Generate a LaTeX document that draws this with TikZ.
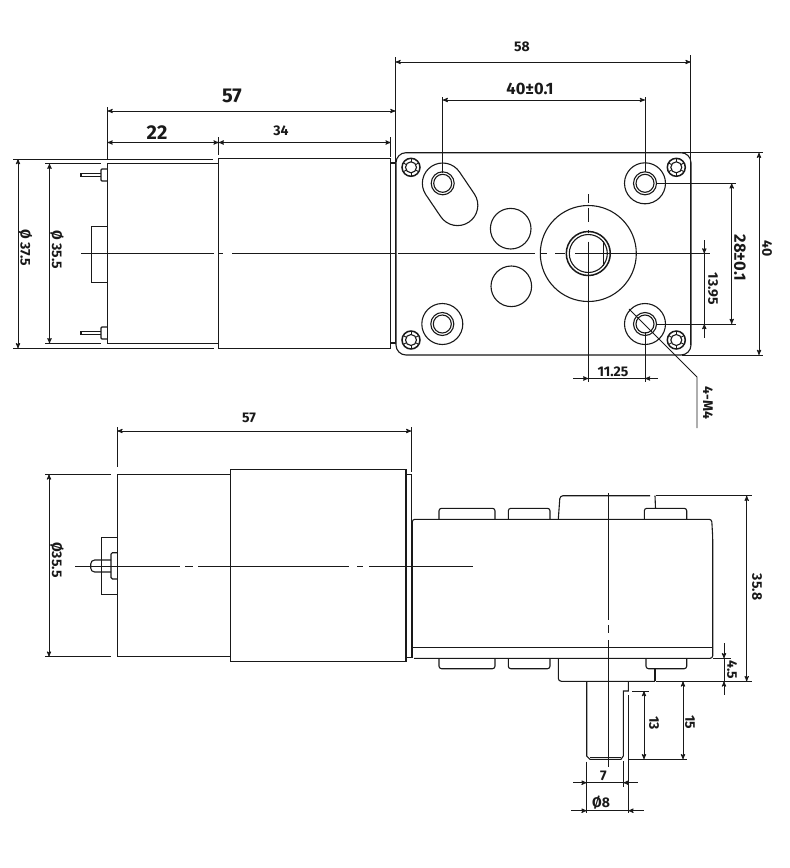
\documentclass[tikz,border=0pt]{standalone}
\usepackage{fontspec}
\setmainfont{Fira Sans}
\usetikzlibrary{arrows,positioning,calc}

\begin{document}
\begin{tikzpicture}[x=1pt,y=-1pt,>=stealth',line cap=butt]

  \tikzstyle{part}=[line width=1.1pt,black!90]
  \tikzstyle{heavy part}=[part,line width=1.5pt]
  \tikzstyle{ext line}=[line width=0.9pt,black!90]
  \tikzstyle{dim line}=[line width=0.9pt,black!90,<->]
  \tikzstyle{dim text}=[inner sep=0pt,font=\bfseries\fontsize{14}{14}\selectfont,black!90]
  \tikzstyle{big text}=[dim text,font=\bfseries\fontsize{20}{20}\selectfont]
  \tikzstyle{wide text}=[dim text,font=\bfseries\fontsize{16.5}{16.5}\selectfont]
  \tikzstyle{side text}=[dim text,rotate=-90]

  \useasboundingbox (0,0) rectangle (790,868);

  \begin{scope}
    % Top view, motor
    \draw [part] (107.5,163.7) rectangle (218.7,343.3);
    \draw [part] (218.7,158.3) rectangle (390.5,348.3);
    \draw [part] (390.5,163) -- (395.5,163);
    \draw [part] (390.5,343) -- (395.5,343);
    \draw [ext line] (91.5,226.5) rectangle (107.5,282.5);
    \foreach \pinY in {175,333} {
      \draw [part,rounded corners=1pt] (107.5,\pinY-6) -- (101,\pinY-6) -- (101,\pinY+6) -- (107.5,\pinY+6);
      \draw [part] (101,\pinY-1.7) -- (81,\pinY-1.7) -- (81,\pinY+1.7) -- (101,\pinY+1.7);
    }
    % centre line with its breaks
    \draw [ext line] (81,253.7) -- (214,253.7) (218,253.7) -- (223,253.7) (232,253.7) -- (395.5,253.7);

    % Top view, gearbox plate
    \draw [part,rounded corners=10pt] (396,152.7) rectangle (691,355);
    \coordinate (hole ul) at (442.7,183.3);
    \coordinate (hole ur) at (645,183.3);
    \coordinate (hole ll) at (442.3,324);
    \coordinate (hole lr) at (645,324);
    \coordinate (hub)     at (588.3,253.5);

    \draw [part] (425.8,194.6) arc [start angle=146.2,end angle=326.2,radius=20.3]
      -- (474.4,194) arc [start angle=326.2,end angle=506.2,radius=20.3] -- cycle;
    \foreach \hole in {hole ul,hole ur,hole ll,hole lr} {
      \draw [part] (\hole) circle (11.5);
      \draw [part] (\hole) circle (9);
    }
    \foreach \hole in {hole ur,hole ll,hole lr}
      \draw [part] (\hole) circle (20.5);

    \foreach \screwX/\screwY in {411/167.3,676.3/167.3,411/340,676.3/340} {
      \draw [heavy part] (\screwX,\screwY) circle (9);
      \draw [part] (\screwX,\screwY) circle (5.5);
      \foreach \a in {30,90,...,330}
        \draw [ext line] ($(\screwX,\screwY)+(\a:5.5)$) -- ($(\screwX,\screwY)+(\a:8.5)$);
    }
    \draw [part] (510.7,228.7) circle (20.3);
    \draw [part] (511.3,286.3) circle (20.3);
    \draw [part] (hub) circle (48);
    \draw [heavy part] (hub) circle (22);
    \draw [part] (hub) circle (19);
    \draw [ext line] (603.5,241) -- (603.5,266);

    % centre lines of the plate
    \draw [ext line] (398,253.5) -- (535,253.5) (540,253.5) -- (547,253.5) (555,253.5) -- (565,253.5)
      (575,253.5) -- (710,253.5);
    \draw [ext line] (588.3,194) -- (588.3,203) (588.3,208) -- (588.3,222) (588.3,230) -- (588.3,233)
      (588.3,241.7) -- (588.3,382);

    % Top view, dimensions
    \draw [ext line] (107.5,107) -- (107.5,159);
    \draw [ext line] (395.5,57) -- (395.5,343);
    \draw [ext line] (690.7,55) -- (690.7,345);
    \draw [ext line] (218.7,137) -- (218.7,155);
    \draw [ext line] (390.7,137) -- (390.7,157);
    \draw [ext line] (13,159) -- (213,159);
    \draw [ext line] (13,348.3) -- (214,348.3);
    \draw [ext line] (45,163.7) -- (101,163.7);
    \draw [ext line] (45,343.3) -- (101,343.3);
    \draw [ext line] (442.7,97) -- (442.7,173);
    \draw [ext line] (645,97) -- (645,172);
    \draw [ext line] (645,332) -- (645,382);
    \draw [ext line] (682,152.7) -- (763,152.7);
    \draw [ext line] (682,355) -- (763,355);
    \draw [ext line] (656,183.3) -- (736,183.3);
    \draw [ext line] (656,324) -- (736,324);

    \draw [dim line] (395.5,62) -- (690.7,62);
    \draw [dim line] (442.7,100) -- (645,100);
    \draw [dim line] (107.5,111) -- (395.5,111);
    \draw [dim line] (107.5,142.5) -- (218.7,142.5);
    \draw [dim line] (218.7,142.5) -- (390.7,142.5);
    \draw [dim line] (18,159) -- (18,348.3);
    \draw [dim line] (49.5,163.7) -- (49.5,343.3);
    \draw [dim line] (759,152.7) -- (759,355);
    \draw [dim line] (731.7,183.3) -- (731.7,324);
    \draw [ext line,<-] (704.3,253.5) -- (704.3,240);
    \draw [ext line] (704.3,253.5) -- (704.3,324);
    \draw [ext line,<-] (704.3,324) -- (704.3,338);
    \draw [ext line,<-] (588.3,378.5) -- (573,378.5);
    \draw [ext line] (588.3,378.5) -- (645,378.5);
    \draw [ext line,<-] (645,378.5) -- (658,378.5);
    % leader
    \draw [ext line] (629,309) -- (697,377) -- (697,428);

    \node [dim text]  (top58)  at (522,47)    {58};
    \node [wide text] (top40)  at (530,89)    {40±0.1};
    \node [big text]  (top57)  at (232,96)    {57};
    \node [big text]  (top22)  at (157,133)   {22};
    \node [dim text]  (top34)  at (281,131)   {34};
    \node [dim text]  (top11)  at (613,371.5) {11.25};
    \node [side text] (dia37)  at (25.5,248)  {Ø 37.5};
    \node [side text] (dia35)  at (57,250)    {Ø 35.5};
    \node [side text] (side40) at (767,249)   {40};
    \node [wide text,rotate=-90] (side28) at (740,258) {28±0.1};
    \node [side text] (side13) at (713,289)   {13.95};
    \node [side text] (sideM4) at (708,403)   {4-M4};
  \end{scope}

  \begin{scope}
    % Side view, motor
    \draw [part] (117.3,474.3) rectangle (230.7,656.7);
    \draw [part] (230.7,469.3) rectangle (406,661.7);
    \draw [part] (406,474.3) -- (411.3,474.3) -- (411.3,657.3) -- (406,657.3);
    \draw [ext line] (117.3,537.5) -- (101.5,537.5) -- (101.5,594.5) -- (117.3,594.5);
    \draw [part,rounded corners=1.5pt] (117.3,552.7) -- (111,552.7) -- (111,579) -- (117.3,579);
    \draw [part,rounded corners=4pt] (111,560) -- (90.7,560) -- (90.7,572) -- (111,572);

    % Side view, gearbox
    \draw [part,rounded corners=2.5pt] (412.3,657.3) -- (412.3,519.3) -- (711.7,519.3)
      -- (712.7,537) -- (712.7,658.3) -- (414,658.3);
    \draw [ext line] (412.3,647.5) -- (712.7,647.5);
    \draw [heavy part] (412.3,647) -- (412.3,658);
    \foreach \bumpL/\bumpR in {439/495,508.3/550,644.3/686.7} {
      \draw [part,rounded corners=2.5pt] (\bumpL,519.3) -- (\bumpL,508.3) -- (\bumpR,508.3) -- (\bumpR,519.3);
    }
    \foreach \bumpL/\bumpR in {439/495,508.3/550,646/686.7} {
      \draw [part,rounded corners=2.5pt] (\bumpL,658.3) -- (\bumpL,668.7) -- (\bumpR,668.7) -- (\bumpR,658.3);
    }
    \draw [part,rounded corners=3pt] (558.3,519.3) -- (560,495.7) -- (650,495.7);
    \draw [part] (655,495.7) -- (655.5,508.3);
    \draw [part,rounded corners=3pt] (558.3,658.3) -- (558.3,681.3) -- (655,681.3);
    \draw [part] (655,681.3) -- (655,668.7);

    % Side view, shaft
    \draw [part] (628.3,681.3) -- (628.3,691) -- (623.3,691) -- (623.3,756) -- (621,759.3) -- (590,759.3)
      -- (586.7,756) -- (586.7,681.3);
    \draw [ext line] (590,757) -- (621,757);

    % centre lines
    \draw [ext line] (75,566) -- (180,566) (185,566) -- (193,566) (198,566) -- (349,566)
      (357,566) -- (363,566) (369,566) -- (473,566);
    \draw [ext line] (608.3,493) -- (608.3,620) (608.3,625) -- (608.3,633) (608.3,640) -- (608.3,766.7);

    % Side view, dimensions
    \draw [ext line] (117.3,427) -- (117.3,467);
    \draw [ext line] (411.3,427) -- (411.3,471.7);
    \draw [ext line] (45,474.3) -- (111,474.3);
    \draw [ext line] (45,656.7) -- (111,656.7);
    \draw [ext line] (656,495.7) -- (752,495.7);
    \draw [ext line] (656,681.3) -- (752,681.3);
    \draw [ext line] (713,658.3) -- (731,658.3);
    \draw [ext line] (632,691) -- (649,691);
    \draw [ext line] (628.3,759.3) -- (687,759.3);
    \draw [ext line] (586.7,761.7) -- (586.7,813);
    \draw [ext line] (623.3,761) -- (623.3,787);
    \draw [ext line] (628.3,695) -- (628.3,813);

    \draw [dim line] (117.3,431) -- (411.3,431);
    \draw [dim line] (49,474.3) -- (49,656.7);
    \draw [dim line] (746.7,495.7) -- (746.7,681.3);
    \draw [dim line] (644,691) -- (644,759.3);
    \draw [dim line] (683,681.3) -- (683,759.3);
    \draw [ext line,<-] (724,658.3) -- (724,643);
    \draw [ext line] (724,658.3) -- (724,681.3);
    \draw [ext line,<-] (724,681.3) -- (724,695);
    \draw [ext line,<-] (586.7,782.7) -- (572.7,782.7);
    \draw [ext line] (586.7,782.7) -- (623.3,782.7);
    \draw [ext line,<-] (623.3,782.7) -- (637.7,782.7);
    \draw [ext line,<-] (586.7,810.7) -- (571,810.7);
    \draw [ext line] (586.7,810.7) -- (628.3,810.7);
    \draw [ext line,<-] (628.3,810.7) -- (644,810.7);

    \node [dim text]  (low57)  at (249,418)   {57};
    \node [side text] (low35)  at (57,560)    {Ø35.5};
    \node [side text] (low358) at (757,587)   {35.8};
    \node [side text] (low45)  at (732,670)   {4.5};
    \node [side text] (low13)  at (654,723)   {13};
    \node [side text] (low15)  at (690,722)   {15};
    \node [dim text]  (low7)   at (603.3,776) {7};
    \node [dim text]  (low8)   at (601,802.7) {Ø8};
  \end{scope}
\end{tikzpicture}
\end{document}
